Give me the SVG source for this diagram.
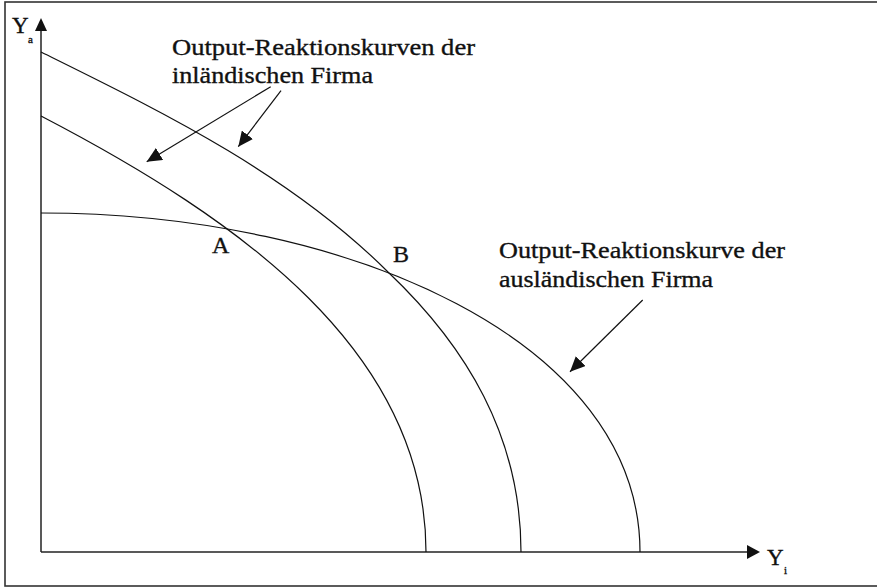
<svg xmlns="http://www.w3.org/2000/svg" width="877" height="587" viewBox="0 0 877 587">
<style>
.t{font-family:"Liberation Serif","Times New Roman",serif;fill:#111;stroke:#111;stroke-width:0.35;}
.lbl{font-size:24px;}
.sub{font-size:11px;}
.curve{fill:none;stroke:#111;stroke-width:1.2;}
.axis{fill:none;stroke:#222;stroke-width:1.5;}
.arr{fill:none;stroke:#111;stroke-width:1.2;}
</style>
<defs>
<marker id="ah" markerUnits="userSpaceOnUse" markerWidth="16" markerHeight="14" refX="15" refY="7" orient="auto">
<path d="M0,0 L15,7 L0,14 z" fill="#111"/>
</marker>
</defs>
<rect id="frame" x="5" y="2" width="880" height="584" fill="#fff" stroke="#333" stroke-width="1.6"/>
<g id="axes">
<path class="axis" d="M41,552 V30"/>
<path d="M41,18 L35,31 L47,31 z" fill="#111"/>
<path class="axis" d="M41,552 H748"/>
<path d="M760,552 L747,545 L747,559 z" fill="#111"/>
<text class="t" x="12" y="33" style="font-size:23px">Y</text>
<text class="t sub" x="28" y="43">a</text>
<text class="t" x="767" y="565" style="font-size:23px">Y</text>
<text class="t sub" x="784" y="574">i</text>
</g>
<g id="curves">
<path id="curve-inland-1" class="curve" d="M41,116 C241,220 426,352 426,552"/>
<path id="curve-inland-2" class="curve" d="M41,52 C156,109 288,172 388,272 C466,346 521,436 521,552"/>
<path id="curve-ausland" class="curve" d="M41,213 C351,213 640,342 640,552"/>
</g>
<g id="points">
<text id="pA" class="t lbl" x="212" y="253">A</text>
<text id="pB" class="t lbl" x="393" y="262">B</text>
</g>
<g id="label-inland">
<text class="t lbl" x="172" y="54.5" textLength="303" lengthAdjust="spacingAndGlyphs">Output-Reaktionskurven der</text>
<text class="t lbl" x="172" y="83" textLength="201" lengthAdjust="spacingAndGlyphs">inländischen Firma</text>
</g>
<g id="label-ausland">
<text class="t lbl" x="499" y="258" textLength="286" lengthAdjust="spacingAndGlyphs">Output-Reaktionskurve der</text>
<text class="t lbl" x="499" y="287" textLength="214" lengthAdjust="spacingAndGlyphs">ausländischen Firma</text>
</g>
<g id="connectors">
<line class="arr" x1="270.7" y1="86.7" x2="146.7" y2="161.7" marker-end="url(#ah)"/>
<line class="arr" x1="281" y1="90.7" x2="238.3" y2="146.7" marker-end="url(#ah)"/>
<line class="arr" x1="642.7" y1="300" x2="570" y2="371.7" marker-end="url(#ah)"/>
</g>
</svg>
